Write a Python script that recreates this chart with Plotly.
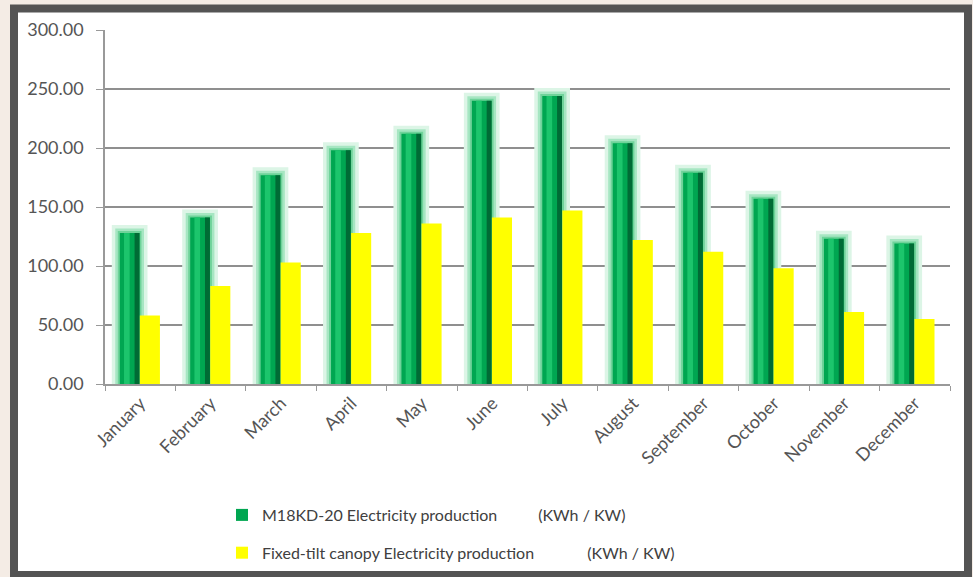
import plotly.graph_objects as go

months = ["January", "February", "March", "April", "May", "June", "July",
          "August", "September", "October", "November", "December"]
m18kd = [128, 141, 177, 198, 212, 240, 244, 204, 179, 157, 123, 119]
fixed_tilt = [58, 83, 103, 128, 136, 141, 147, 122, 112, 98, 61, 55]
y_ticks = [0, 50, 100, 150, 200, 250, 300]

name_green = "M18KD-20 Electricity production" + "\u00a0" * 10 + "(KWh / KW)"
name_yellow = "Fixed-tilt canopy Electricity production" + "\u00a0" * 13 + "(KWh / KW)"

FONT = "Lato, Open Sans, sans-serif"

fig = go.Figure()

GW, GO = 0.28, -0.29  # green bar width / offset (category units)

# soft glow layers behind green bars
fig.add_trace(go.Bar(x=months, y=m18kd, width=GW, offset=GO,
                     marker=dict(color="#dcf5e6", line=dict(color="#dcf5e6", width=16)),
                     showlegend=False, hoverinfo="skip"))
fig.add_trace(go.Bar(x=months, y=m18kd, width=GW, offset=GO,
                     marker=dict(color="#a6e6c2", line=dict(color="#a6e6c2", width=9)),
                     showlegend=False, hoverinfo="skip"))
fig.add_trace(go.Bar(x=months, y=m18kd, width=GW, offset=GO,
                     marker=dict(color="#6fd39a", line=dict(color="#6fd39a", width=4)),
                     showlegend=False, hoverinfo="skip"))
# main green bar
fig.add_trace(go.Bar(x=months, y=m18kd, width=GW, offset=GO, name=name_green,
                     legendgroup="g", marker=dict(color="#00a651", line=dict(width=0))))
# highlight strip
fig.add_trace(go.Bar(x=months, y=m18kd, width=0.08, offset=-0.23,
                     marker=dict(color="#1cc56c", line=dict(width=0)),
                     showlegend=False, hoverinfo="skip"))
# dark shading strip
fig.add_trace(go.Bar(x=months, y=m18kd, width=0.07, offset=-0.08,
                     marker=dict(color="#006b35", line=dict(width=0)),
                     showlegend=False, hoverinfo="skip"))
# yellow bars
fig.add_trace(go.Bar(x=months, y=fixed_tilt, width=0.285, offset=-0.005, name=name_yellow,
                     legendgroup="y", marker=dict(color="#ffff00", line=dict(width=0))))

W, H = 973, 577
L, R, T, B = 105, 23, 30, 193
pw, ph = W - L - R, H - T - B

def px_x(p):
    return (p - L) / pw

def px_y(p):
    return (H - B - p) / ph

fig.add_shape(type="rect", xref="paper", yref="paper",
              x0=px_x(14), x1=px_x(968), y0=px_y(575), y1=px_y(8.5),
              line=dict(color="#545454", width=8), fillcolor="white", layer="below")

fig.update_layout(
    width=W, height=H,
    margin=dict(l=L, r=R, t=T, b=B, autoexpand=False),
    paper_bgcolor="#f4ece5",
    plot_bgcolor="rgba(0,0,0,0)",
    barmode="overlay",
    font=dict(family=FONT, color="#555555", size=14),
    legend=dict(x=px_x(222), y=px_y(498), xanchor="left", yanchor="top",
                bgcolor="rgba(0,0,0,0)", font=dict(size=16, color="#404040"),
                tracegroupgap=14, traceorder="grouped"),
    xaxis=dict(type="category", tickangle=-45, tickson="boundaries",
               ticks="outside", ticklen=5, tickcolor="#999999",
               showline=True, linecolor="#999999", linewidth=1.5,
               showgrid=False, tickfont=dict(size=18, color="#555555"),
               range=[-0.5, 11.5]),
    yaxis=dict(range=[0, 300], tickvals=y_ticks, tickformat=".2f",
               showgrid=True, gridcolor="#8f8f8f", gridwidth=1.5,
               showline=True, linecolor="#999999", linewidth=1.5,
               ticks="outside", ticklen=7, tickcolor="#999999",
               ticklabelstandoff=9,
               zeroline=False, tickfont=dict(size=18, color="#555555")),
)

fig.write_html("out.html")
